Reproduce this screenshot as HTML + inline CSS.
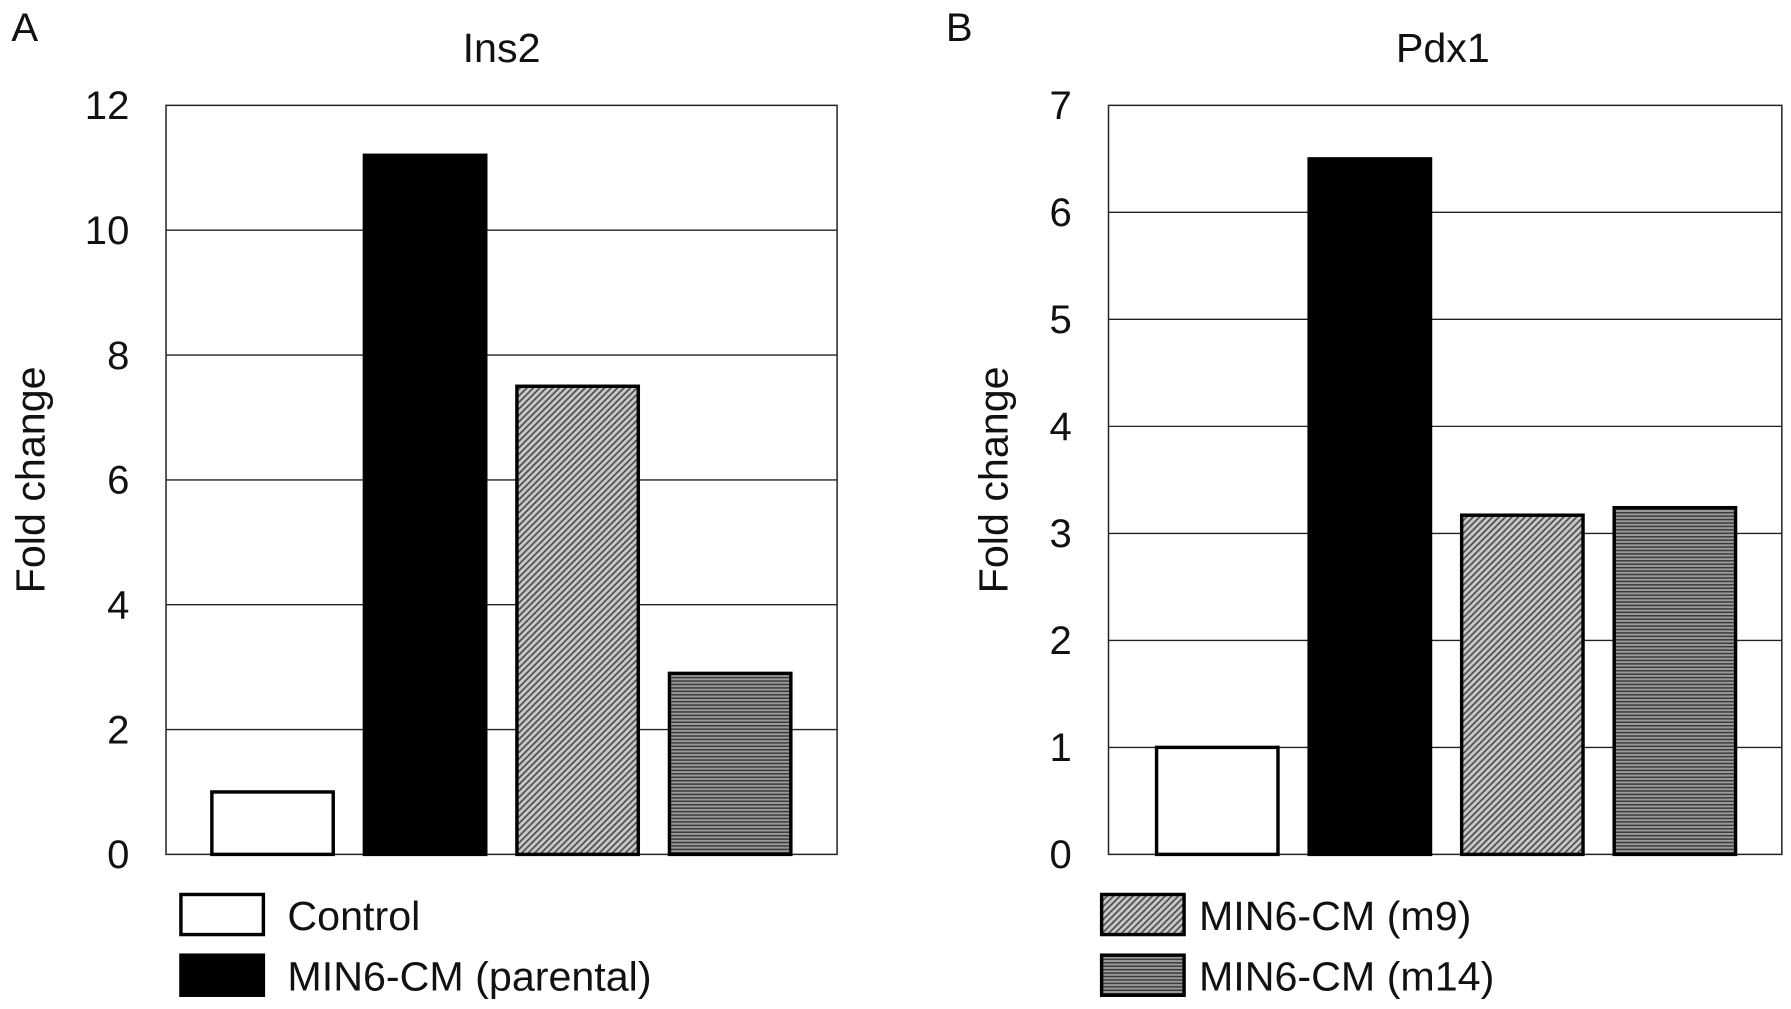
<!DOCTYPE html>
<html><head><meta charset="utf-8"><style>
html,body{margin:0;padding:0;background:#fff;}
svg{display:block;font-family:"Liberation Sans",Arial,sans-serif;}
</style></head><body>
<svg id="fig" width="1791" height="1009" viewBox="0 0 1564 881" preserveAspectRatio="none" xmlns="http://www.w3.org/2000/svg">
<defs>
<pattern id="diag" width="4" height="4" patternUnits="userSpaceOnUse" patternTransform="rotate(45)">
<rect width="4" height="4" fill="#c8c8c8"/><rect width="1.6" height="4" fill="#555"/>
</pattern>
<pattern id="horiz" width="4" height="3" patternUnits="userSpaceOnUse">
<rect width="4" height="3" fill="#9a9a9a"/><rect width="4" height="1.3" fill="#3a3a3a"/>
</pattern>
</defs>
<g id="root"></g>
</svg>
<script>
const categories = ["Control", "MIN6-CM (parental)", "MIN6-CM (m9)", "MIN6-CM (m14)"];
const ins2Values = [1.0, 11.2, 7.5, 2.9];
const pdx1Values = [1.0, 6.5, 3.17, 3.24];
const ins2Ticks = [0, 2, 4, 6, 8, 10, 12];
const pdx1Ticks = [0, 1, 2, 3, 4, 5, 6, 7];
const fills = ["#fff", "#000", "url(#diag)", "url(#horiz)"];
const NS = "http://www.w3.org/2000/svg";
const root = document.getElementById("root");
function el(tag, attrs, parent) {
  const e = document.createElementNS(NS, tag);
  for (const k in attrs) e.setAttribute(k, attrs[k]);
  (parent || root).appendChild(e);
  return e;
}
function panel(cfg) {
  const g = el("g", {});
  
  
  const {left, right, top, bottom, ticks, values} = cfg;
  const maxV = ticks[ticks.length - 1];
  const y = v => bottom - (v / maxV) * (bottom - top);
  const bx = i => cfg.c0 + i * 133.2;
  ticks.forEach(t => {
    if (t > 0 && t < maxV) {
      const gl = el("line", {x1: left, x2: right, y1: y(t), y2: y(t), stroke: "#222", "stroke-width": 1.2}, g);
      
      
    }
    const tl = el("text", {x: left - 32, y: y(t) + 12, "text-anchor": "end", "font-size": 35, fill: "#111"}, g);
    tl.textContent = t;
    
    
  });
  const fr = el("rect", {x: left, y: top, width: right - left, height: bottom - top, fill: "none", stroke: "#222", "stroke-width": 1.3}, g);
  
  
  values.forEach((v, i) => {
    const r = el("rect", {x: bx(i) - 53, y: y(v), width: 106, height: bottom - y(v), fill: fills[i], stroke: "#000", "stroke-width": 3}, g);
    
    
  });
  const tt = el("text", {x: cfg.titleX, y: 54, "text-anchor": "middle", "font-size": 36, fill: "#111"}, g);
  tt.textContent = cfg.title;
  
  
  const yt = el("text", {x: 0, y: 0, transform: `translate(${cfg.yTitleX},419) rotate(-90)`, "text-anchor": "middle", "font-size": 36, fill: "#111"}, g);
  yt.textContent = "Fold change";
  
  
  const pl = el("text", {x: cfg.letterX, y: 36, "font-size": 35, fill: "#111"}, g);
  pl.textContent = cfg.letter;
  
  
  cfg.legend.forEach((ci, k) => {
    const yy = 781 + k * 53;
    const lb = el("rect", {x: cfg.legX, y: yy, width: 72, height: 35, fill: fills[ci], stroke: "#000", "stroke-width": 3}, g);
    
    
    const lt = el("text", {x: cfg.legX + cfg.legGap, y: yy + 31, "font-size": 36, fill: "#111"}, g);
    lt.textContent = categories[ci];
    
    
  });
}
panel({name: "panel-a-ins2", left: 145, right: 731, top: 92, bottom: 746, ticks: ins2Ticks, values: ins2Values, c0: 238, title: "Ins2", titleX: 438, yTitleX: 39, letter: "A", letterX: 10, legX: 158, legGap: 93, legend: [0, 1]});
panel({name: "panel-b-pdx1", left: 968, right: 1556, top: 92, bottom: 746, ticks: pdx1Ticks, values: pdx1Values, c0: 1063, title: "Pdx1", titleX: 1260, yTitleX: 880, letter: "B", letterX: 826, legX: 962, legGap: 85, legend: [2, 3]});
</script>
</body></html>
